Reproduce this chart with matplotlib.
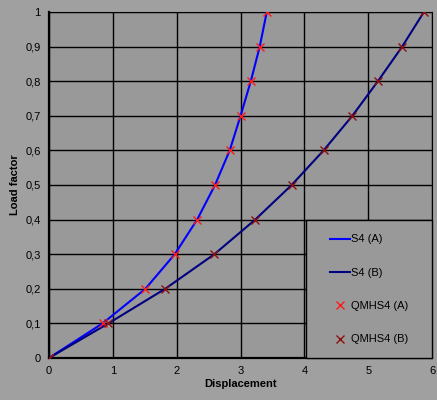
import matplotlib.pyplot as plt
from matplotlib.patches import Rectangle
from matplotlib.ticker import FuncFormatter

plt.rcParams['font.family'] = ['Liberation Sans', 'DejaVu Sans']

load = [0, 0.1, 0.2, 0.3, 0.4, 0.5, 0.6, 0.7, 0.8, 0.9, 1.0]
disp_a = [0, 0.84, 1.51, 1.97, 2.32, 2.60, 2.83, 3.00, 3.16, 3.30, 3.41]
disp_b = [0, 0.93, 1.82, 2.59, 3.23, 3.80, 4.30, 4.75, 5.15, 5.53, 5.87]

fig = plt.figure(figsize=(4.37, 4.0), dpi=100, facecolor='#a0a0a0')
ax = fig.add_axes([0.112, 0.105, 0.877, 0.865], facecolor='#999999')

ax.plot(disp_a, load, color='#0000ff', lw=1.5, label='S4 (A)', zorder=3)
ax.plot(disp_b, load, color='#000080', lw=1.5, label='S4 (B)', zorder=3)
ax.plot(disp_a, load, 'x', color='#ff1a1a', ms=6, mew=1, label='QMHS4 (A)', zorder=4)
ax.plot(disp_b, load, 'x', color='#8b1010', ms=6, mew=1, label='QMHS4 (B)', zorder=4)

ax.set_xlim(0, 6)
ax.set_ylim(0, 1)
ax.set_xticks(range(7))
ax.set_yticks([i / 10 for i in range(11)])
ax.yaxis.set_major_formatter(FuncFormatter(lambda v, p: ('%g' % round(v, 1)).replace('.', ',')))
ax.grid(True, color='black', lw=1)
ax.set_axisbelow(True)
ax.tick_params(length=0, labelsize=8, pad=6)
for s in ax.spines.values():
    s.set_color('black')
ax.spines['left'].set_linewidth(1.6)
ax.spines['bottom'].set_linewidth(1.6)

ax.set_xlabel('Displacement', fontsize=8, fontweight='bold', labelpad=2)
ax.set_ylabel('Load factor', fontsize=8, fontweight='bold', labelpad=4)

# legend box
ax.add_patch(Rectangle((0.671, 0), 0.329, 0.40, transform=ax.transAxes,
                       facecolor='#999999', edgecolor='black', lw=1, zorder=5, clip_on=False))
leg = ax.legend(loc='center left', bbox_to_anchor=(0.734, 0.198), fontsize=8,
                labelspacing=2.1, borderpad=0, handlelength=1.8, handletextpad=0.1,
                borderaxespad=0, frameon=False)
leg.set_zorder(6)

fig.savefig('out.png', dpi=100, facecolor=fig.get_facecolor())
